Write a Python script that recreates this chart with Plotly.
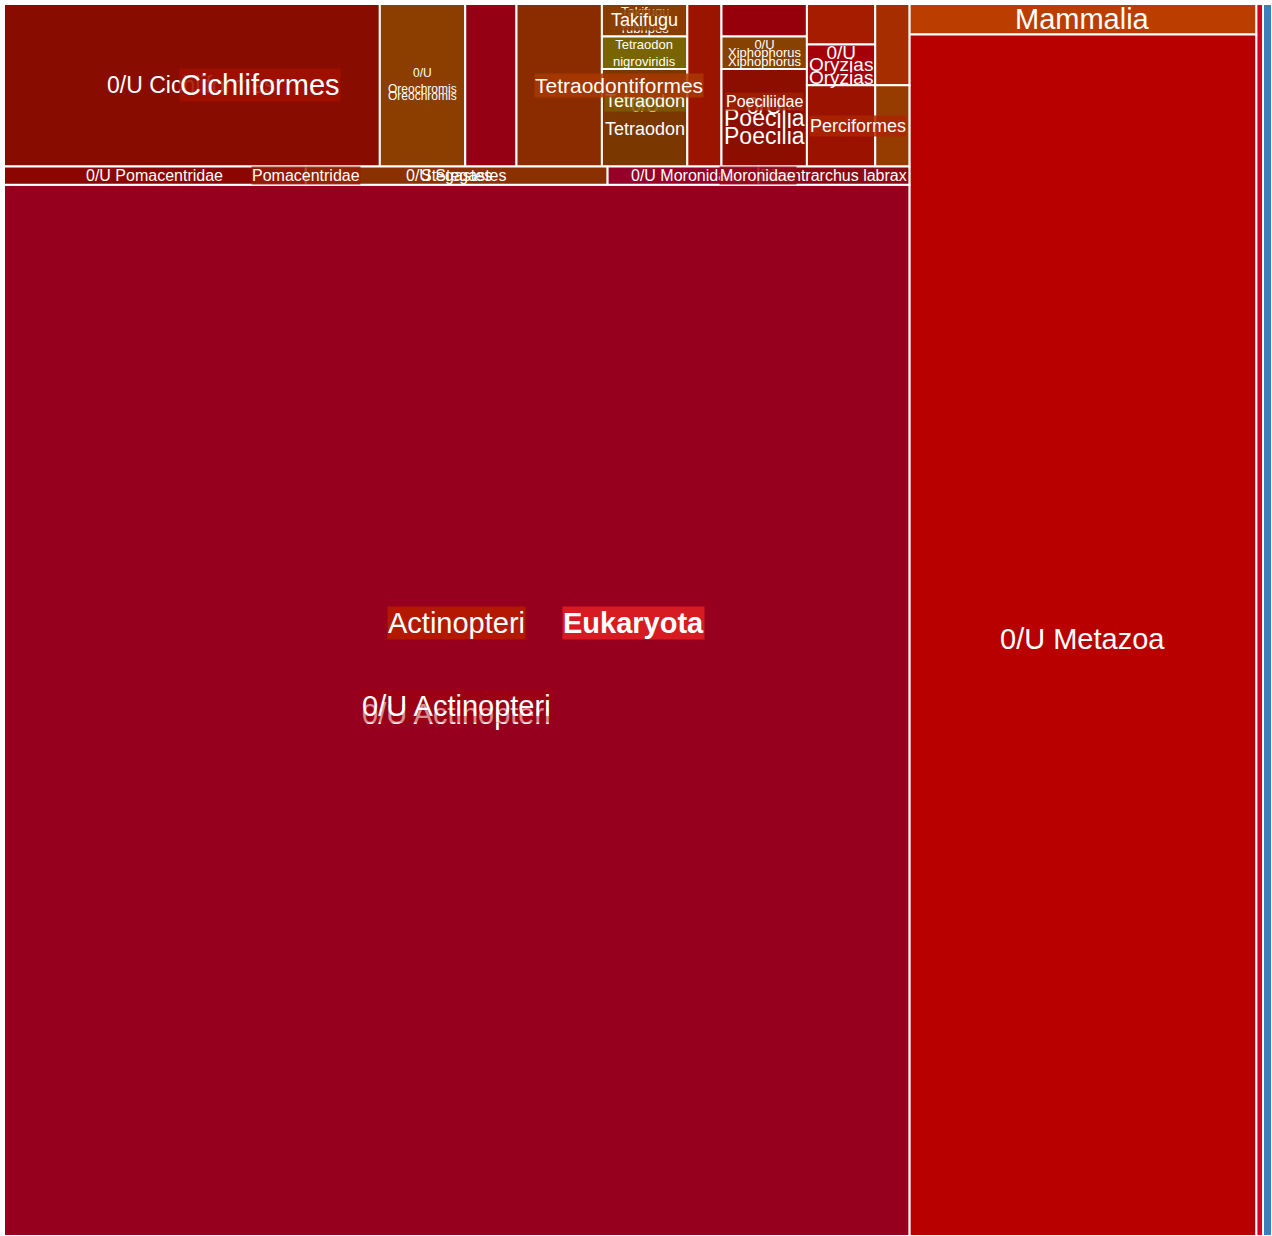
import plotly.graph_objects as go

# taxonomy tree (ids double as the shown names); counts only on leaves
ids = [
    "Eukaryota", "Metazoa", "euk_r", "euk_b",
    "Actinopteri", "Mammalia", "0/U Metazoa", "0/U Actinopteri",
    "Cichliformes", "0/U Cichliformes", "Oreochromis", "0/U Oreochromis", "cich_c",
    "Tetraodontiformes", "tet_a", "Takifugu", "Takifugu rubripes",
    "Tetraodon", "Tetraodon nigroviridis", "0/U Tetraodon", "tet_c",
    "Cyprinodontiformes", "cyp_a", "Poeciliidae", "Xiphophorus", "0/U Xiphophorus",
    "Poecilia", "0/U Poecilia",
    "ova_a", "Oryzias", "0/U Oryzias", "ova_b", "Perciformes", "perc_a", "perc_b",
    "Pomacentridae", "0/U Pomacentridae", "Stegastes", "0/U Stegastes",
    "Moronidae", "0/U Moronidae", "Dicentrarchus labrax",
]
parents = [
    "", "Eukaryota", "Eukaryota", "Eukaryota",
    "Metazoa", "Metazoa", "Metazoa", "Actinopteri",
    "Actinopteri", "Cichliformes", "Cichliformes", "Oreochromis", "Cichliformes",
    "Actinopteri", "Tetraodontiformes", "Tetraodontiformes", "Takifugu",
    "Tetraodontiformes", "Tetraodon", "Tetraodon", "Tetraodontiformes",
    "Actinopteri", "Cyprinodontiformes", "Cyprinodontiformes", "Poeciliidae", "Xiphophorus",
    "Poeciliidae", "Poecilia",
    "Actinopteri", "Actinopteri", "Oryzias", "Actinopteri", "Actinopteri", "Perciformes", "Perciformes",
    "Actinopteri", "Pomacentridae", "Pomacentridae", "Stegastes",
    "Actinopteri", "Moronidae", "Moronidae",
]
counts = [
    0, 0, 3, 4,
    0, 3.8, 150.2, 343,
    0, 22, 0, 5, 3,
    0, 5, 0, 1,
    0, 1, 3, 2,
    0, 1, 0, 0, 1,
    0, 3,
    1, 0, 1, 1, 0, 2, 1,
    0, 2, 0, 2,
    0, 1, 1,
]

# how each parent cuts its box: "h" = side by side, "v" = stacked
tiling = {
    "Eukaryota": ("h", ["Metazoa", "euk_r", "euk_b"]),
    "Metazoa": ("h", ["Actinopteri", ("v", ["Mammalia", "0/U Metazoa"])]),
    "Actinopteri": ("v", [
        ("h", ["Cichliformes", "Tetraodontiformes", "Cyprinodontiformes",
               ("v", [("h", [("v", ["ova_a", "Oryzias"]), "ova_b"]), "Perciformes"])]),
        ("h", ["Pomacentridae", "Moronidae"]),
        "0/U Actinopteri"]),
    "Cichliformes": ("h", ["0/U Cichliformes", "Oreochromis", "cich_c"]),
    "Tetraodontiformes": ("h", ["tet_a", ("v", ["Takifugu", "Tetraodon"]), "tet_c"]),
    "Tetraodon": ("v", ["Tetraodon nigroviridis", "0/U Tetraodon"]),
    "Cyprinodontiformes": ("v", ["cyp_a", "Poeciliidae"]),
    "Poeciliidae": ("v", ["Xiphophorus", "Poecilia"]),
    "Perciformes": ("h", ["perc_a", "perc_b"]),
    "Pomacentridae": ("h", ["0/U Pomacentridae", "Stegastes"]),
    "Moronidae": ("h", ["0/U Moronidae", "Dicentrarchus labrax"]),
}

colors = {
    "euk_r": "#D2001E", "euk_b": "#3A80BE",
    "Mammalia": "#BB3E00", "0/U Metazoa": "#B80000", "0/U Actinopteri": "#96001E",
    "0/U Cichliformes": "#880C00", "0/U Oreochromis": "#8B3E00", "cich_c": "#960014",
    "tet_a": "#8B2C00", "Takifugu rubripes": "#873C00", "Tetraodon nigroviridis": "#786400",
    "0/U Tetraodon": "#7A3800", "tet_c": "#9B1400",
    "cyp_a": "#96000A", "0/U Xiphophorus": "#874100", "0/U Poecilia": "#8B0E00",
    "ova_a": "#A51C00", "0/U Oryzias": "#A5000A", "ova_b": "#A62D00",
    "perc_a": "#9B1200", "perc_b": "#963C00",
    "0/U Pomacentridae": "#8B0600", "0/U Stegastes": "#8B3000",
    "0/U Moronidae": "#960028", "Dicentrarchus labrax": "#8B0A14",
}

# labels: node, wrap words, font size, shift right / down (px), background, bold
labels = [
    ("0/U Cichliformes", False, 23, 0, 0, None, False),
    ("0/U Oreochromis", True, 12, 0, -4, None, False),
    ("Oreochromis", False, 12, 0, 11, None, False),
    ("Cichliformes", False, 29, 0, 0, "rgba(160,16,0,0.88)", False),
    ("Takifugu rubripes", True, 13, 0, 0, None, False),
    ("Takifugu", False, 18, 0, 0, "rgba(140,64,0,0.85)", False),
    ("Tetraodon nigroviridis", True, 13, 0, 0, None, False),
    ("0/U Tetraodon", True, 18, 0, 0, None, False),
    ("Tetraodon", False, 18, 0, 0, "rgba(128,92,0,0.85)", False),
    ("Tetraodontiformes", False, 21, 0, 0, "rgba(168,56,0,0.85)", False),
    ("0/U Xiphophorus", True, 13, 0, 0, None, False),
    ("Xiphophorus", False, 13, 0, 0, None, False),
    ("0/U Poecilia", True, 23, 0, 3, None, False),
    ("Poecilia", False, 23, 0, 0, None, False),
    ("Poeciliidae", False, 16, 0, 0, "rgba(160,34,0,0.8)", False),
    ("0/U Oryzias", True, 19, 0, 0, None, False),
    ("Oryzias", False, 19, 0, 0, None, False),
    ("Perciformes", False, 18, 0, 0, "rgba(172,38,0,0.85)", False),
    ("0/U Pomacentridae", False, 16, 0, 0, None, False),
    ("0/U Stegastes", False, 16, 0, 0, None, False),
    ("Stegastes", False, 16, 0, 0, None, False),
    ("Pomacentridae", False, 16, 0, 0, "rgba(150,30,0,0.8)", False),
    ("0/U Moronidae", False, 16, 0, 0, None, False),
    ("Dicentrarchus labrax", False, 16, 0, 0, None, False),
    ("Moronidae", False, 16, 0, 0, "rgba(150,8,25,0.85)", False),
    ("0/U Actinopteri", False, 29, 0, 4, None, False),
    ("0/U Actinopteri", False, 29, 0, -4, "rgba(165,0,10,0.45)", False),
    ("Mammalia", False, 29, 0, 0, None, False),
    ("0/U Metazoa", False, 29, 0, 4, None, False),
    ("Actinopteri", False, 29, 0, 3, "rgba(178,25,0,1)", False),
    ("Eukaryota", False, 29, -5, 3, "rgba(214,28,34,1)", True),
]

children = {}
for i, p in zip(ids, parents):
    children.setdefault(p, []).append(i)
count_of = dict(zip(ids, counts))


def total(item):
    if isinstance(item, tuple):
        return sum(total(x) for x in item[1])
    kids = children.get(item, [])
    return count_of[item] + sum(total(k) for k in kids)


boxes = {}


def place(item, x0, y0, x1, y1):
    if isinstance(item, tuple):
        orient, parts = item
        s = sum(total(p) for p in parts)
        pos = x0 if orient == "h" else y0
        for p in parts:
            f = total(p) / s
            if orient == "h":
                w = (x1 - x0) * f
                place(p, pos, y0, pos + w, y1)
            else:
                w = (y1 - y0) * f
                place(p, x0, pos, x1, pos + w)
            pos += w
        return
    boxes[item] = (x0, y0, x1, y1)
    if item in children:
        place(tiling.get(item, ("v", children[item])), x0, y0, x1, y1)


place("Eukaryota", 0, 0, 1, 1)

shapes = []
for node in ids:
    if node in children:
        continue
    x0, y0, x1, y1 = boxes[node]
    shapes.append(dict(type="rect", xref="x", yref="y", x0=x0, y0=y0, x1=x1, y1=y1,
                       fillcolor=colors[node], line=dict(color="white", width=2),
                       layer="above"))

annotations = []
for node, wrap, size, dx, dy, bg, bold in labels:
    x0, y0, x1, y1 = boxes[node]
    text = node.replace(" ", "<br>") if wrap else node
    if bold:
        text = "<b>" + text + "</b>"
    annotations.append(dict(
        x=(x0 + x1) / 2, y=(y0 + y1) / 2, xref="x", yref="y",
        text=text, showarrow=False, xanchor="center", yanchor="middle",
        xshift=dx, yshift=-dy,
        font=dict(family="Liberation Sans, Arial", size=size, color="white"),
        bgcolor=bg if bg else "rgba(0,0,0,0)", borderpad=0,
    ))

layout = go.Layout(
    width=1272, height=1236,
    margin=dict(l=4, r=0, t=4, b=0),
    paper_bgcolor="white", plot_bgcolor="white",
    xaxis=dict(range=[0, 1], visible=False, fixedrange=True),
    yaxis=dict(range=[1, 0], visible=False, fixedrange=True),
    shapes=shapes, annotations=annotations, showlegend=False,
)

fig = go.Figure(layout=layout)
# page body has an 8px default margin; drop it so the map sits at the top-left
fig.write_html("out.html", config={"displayModeBar": False},
               post_script="document.body.style.margin='0';")
